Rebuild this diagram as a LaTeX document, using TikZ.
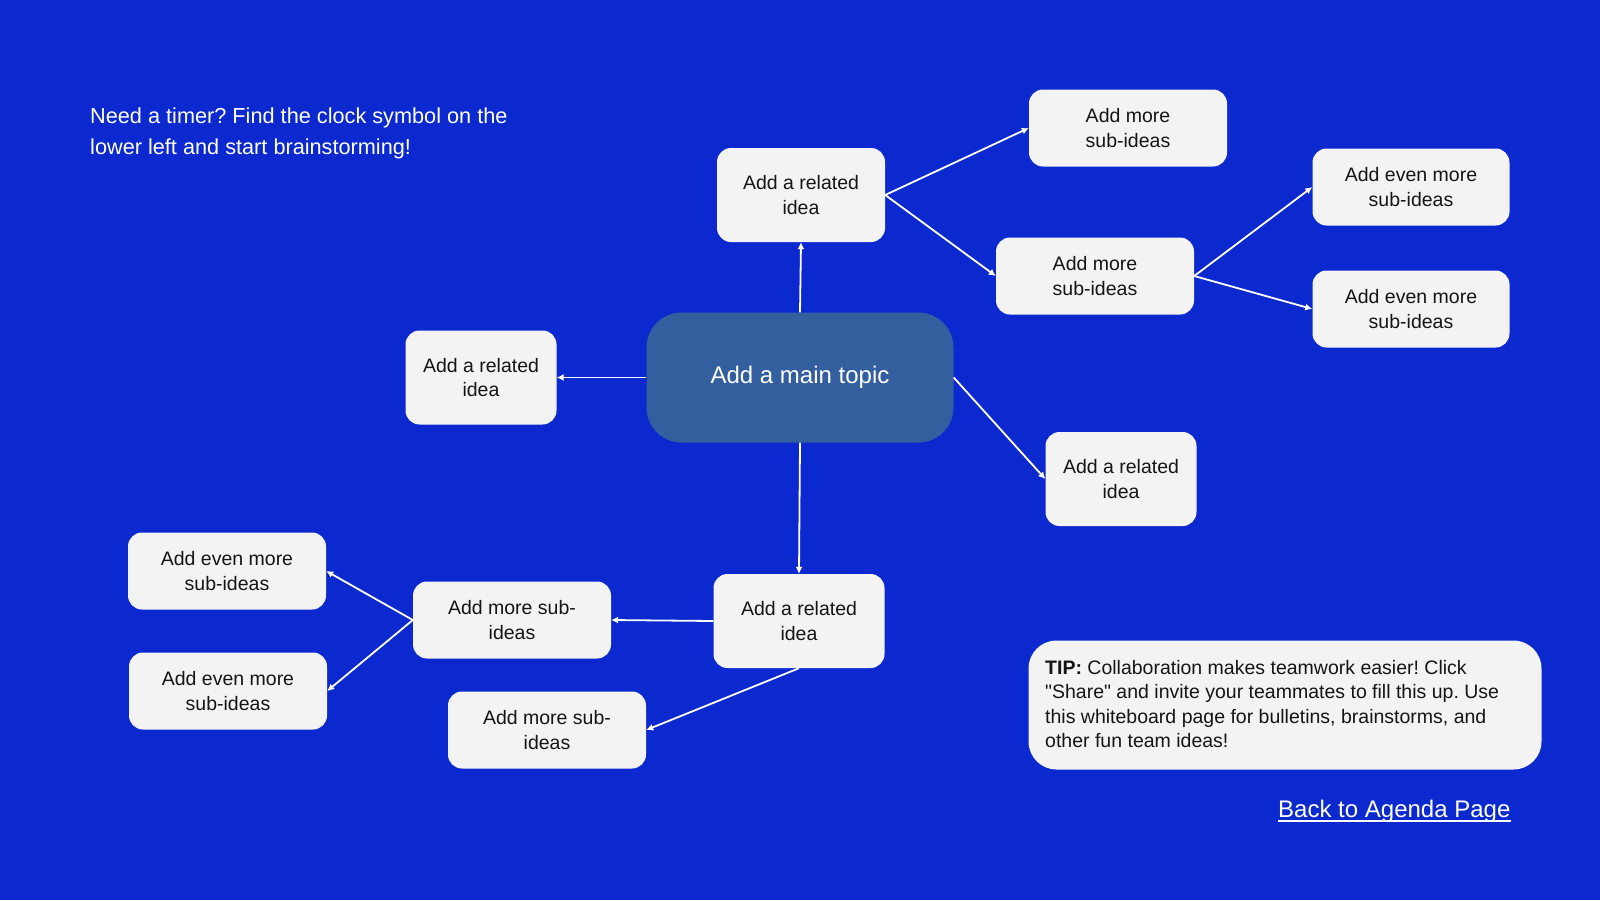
\documentclass[tikz,border=0pt]{standalone}
\usepackage{fontspec}
\setmainfont{Liberation Sans}[Ligatures=TeXOff]
\usetikzlibrary{arrows.meta}
\definecolor{bg}{HTML}{0B29CF}
\definecolor{mainc}{HTML}{335F9E}
\definecolor{boxc}{HTML}{F3F3F3}
\definecolor{ink}{HTML}{151515}
\frenchspacing
\begin{document}
\begin{tikzpicture}[x=1pt,y=-1pt,
  idea/.style={fill=boxc, rounded corners=14pt, align=center, inner sep=0pt,
    text=ink, font=\fontsize{19.5}{24.5}\selectfont},
  rel/.style={idea, minimum height=94pt},
  sub/.style={idea, minimum width=198pt, minimum height=77pt},
  conn/.style={draw=white, line width=1.8pt, -{Latex[length=7pt,width=7pt]}}]
\useasboundingbox[fill=bg] (0,0) rectangle (1600,900);
% main
\node[fill=mainc, rounded corners=35pt, minimum width=307pt, minimum height=130pt,
  text=white, font=\fontsize{24}{28}\selectfont, inner sep=0pt] (main) at (800,377.5) {Add a main topic};
% related ideas
\node[rel, minimum width=168pt] (toprel) at (801,195) {Add a related\\idea};
\node[rel, minimum width=151pt] (leftrel) at (481,377.5) {Add a related\\idea};
\node[rel, minimum width=151pt] (rightrel) at (1121,479) {Add a related\\idea};
\node[rel, minimum width=171pt] (botrel) at (799,621) {Add a related\\idea};
% sub ideas
\node[sub] (sub1) at (1128,128) {Add more\\sub-ideas};
\node[sub] (sub2) at (1095,276) {Add more\\sub-ideas};
\node[sub, minimum width=197pt] (even1) at (1411,187) {Add even more\\sub-ideas};
\node[sub, minimum width=197pt] (even2) at (1411,309) {Add even more\\sub-ideas};
\node[sub] (sub3) at (512,620) {Add more sub-\\ideas};
\node[sub] (sub4) at (547,730) {Add more sub-\\ideas};
\node[sub] (even3) at (227,571) {Add even more\\sub-ideas};
\node[sub] (even4) at (228,691) {Add even more\\sub-ideas};
% tip
\node[fill=boxc, rounded corners=28pt, minimum width=513pt, minimum height=129pt, inner sep=0pt] (tip) at (1285,705) {};
\node[anchor=north west, align=left, inner sep=0pt, text=ink, font=\fontsize{19.5}{24.5}\selectfont] (tiptext) at (1045,660)
  {\textbf{TIP:} Collaboration makes teamwork easier! Click\\"Share" and invite your teammates to fill this up. Use\\this whiteboard page for bulletins, brainstorms, and\\other fun team ideas!};
% top-left note
\node[anchor=north west, align=left, inner sep=0pt, text=white, font=\fontsize{21.7}{31}\selectfont] (note) at (90,108)
  {Need a timer? Find the clock symbol on the\\lower left and start brainstorming!};
% link
\node[anchor=base west, inner sep=0pt, text=white, font=\fontsize{24}{28}\selectfont] (link) at (1278,817) {Back to Agenda Page};
\draw[white, line width=1.3pt] ([yshift=-4pt]link.base west) -- ([yshift=-4pt]link.base east);
% connectors
\draw[conn] (main.north) -- (toprel.south);
\draw[conn] (main.west) -- (leftrel.east);
\draw[conn] (main.east) -- (rightrel.west);
\draw[conn] (main.south) -- (botrel.north);
\draw[conn] (toprel.east) -- (sub1.west);
\draw[conn] (toprel.east) -- (sub2.west);
\draw[conn] (sub2.east) -- (even1.west);
\draw[conn] (sub2.east) -- (even2.west);
\draw[conn] (botrel.west) -- (sub3.east);
\draw[conn] (botrel.south) -- (sub4.east);
\draw[conn] (sub3.west) -- (even3.east);
\draw[conn] (sub3.west) -- (even4.east);
\end{tikzpicture}
\end{document}
